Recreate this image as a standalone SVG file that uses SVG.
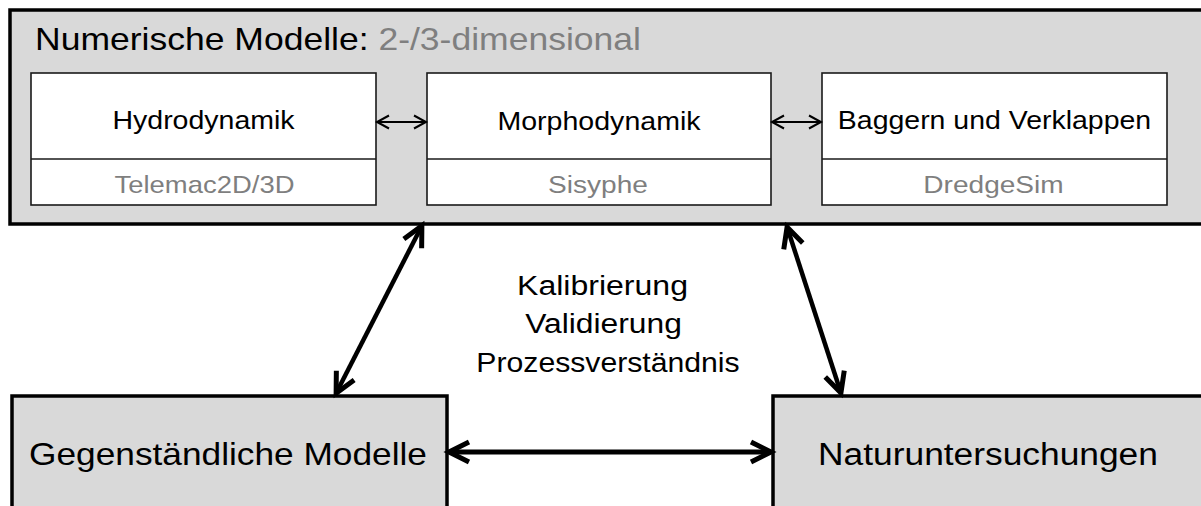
<svg xmlns="http://www.w3.org/2000/svg" width="1201" height="506" viewBox="0 0 1201 506">
<style>
.big{fill:#d9d9d9;stroke:#000;stroke-width:3.5}
.inner{fill:#fff;stroke:#1a1a1a;stroke-width:1.6}
.t{font-family:"Liberation Sans",Arial,sans-serif;fill:#000;text-anchor:middle}
.g{fill:#7f7f7f}
.con{fill:none;stroke:#000}
</style>
<defs>
<marker id="ahS" markerUnits="userSpaceOnUse" viewBox="-15 -10 19 20" markerWidth="19" markerHeight="20" refX="-1" refY="0" orient="auto-start-reverse">
<path d="M-12,-6.5 L0,0 L-12,6.5" fill="none" stroke="#000" stroke-width="2"/>
</marker>
<marker id="ahB" markerUnits="userSpaceOnUse" viewBox="-26 -15 32 30" markerWidth="32" markerHeight="30" refX="-3" refY="0" orient="auto-start-reverse">
<path d="M-20,-10 L0,0 L-20,10" fill="none" stroke="#000" stroke-width="5"/>
</marker>
</defs>
<rect width="1201" height="506" fill="#fff"/>

<g id="numerische-modelle">
<rect class="big" x="10" y="10" width="1195" height="214"/>
<text class="t" style="text-anchor:start" font-size="31" transform="translate(35,50) scale(1.146,1)">Numerische Modelle: <tspan class="g">2-/3-dimensional</tspan></text>
</g>

<g id="hydrodynamik">
<rect class="inner" x="31" y="73" width="345" height="132"/>
<line x1="31" y1="159" x2="376" y2="159" stroke="#1a1a1a" stroke-width="1.4"/>
<text class="t" font-size="25" transform="translate(203.5,129) scale(1.14,1)">Hydrodynamik</text>
<text class="t g" font-size="24" transform="translate(204.5,193) scale(1.144,1)">Telemac2D/3D</text>
</g>

<g id="morphodynamik">
<rect class="inner" x="427" y="73" width="344" height="132"/>
<line x1="427" y1="159" x2="771" y2="159" stroke="#1a1a1a" stroke-width="1.4"/>
<text class="t" font-size="25" transform="translate(599,130) scale(1.142,1)">Morphodynamik</text>
<text class="t g" font-size="24" transform="translate(598,193) scale(1.17,1)">Sisyphe</text>
</g>

<g id="baggern">
<rect class="inner" x="822" y="73" width="345" height="132"/>
<line x1="822" y1="159" x2="1167" y2="159" stroke="#1a1a1a" stroke-width="1.4"/>
<text class="t" font-size="25" transform="translate(994.5,129) scale(1.139,1)">Baggern und Verklappen</text>
<text class="t g" font-size="24" transform="translate(993.5,193) scale(1.17,1)">DredgeSim</text>
</g>

<g id="gegenstaendliche-modelle">
<rect class="big" x="12" y="396" width="435" height="120"/>
<text class="t" font-size="31" transform="translate(228,465) scale(1.138,1)">Gegenständliche Modelle</text>
</g>

<g id="naturuntersuchungen">
<rect class="big" x="773" y="396" width="440" height="120"/>
<text class="t" font-size="31" transform="translate(988,465) scale(1.14,1)">Naturuntersuchungen</text>
</g>

<g id="label">
<text class="t" font-size="27.5" transform="translate(602.5,295) scale(1.165,1)">Kalibrierung</text>
<text class="t" font-size="27.5" transform="translate(603.5,333) scale(1.156,1)">Validierung</text>
<text class="t" font-size="27.5" transform="translate(608,372) scale(1.098,1)">Prozessverständnis</text>
</g>

<g id="connectors">
<line class="con" stroke-width="2" x1="378" y1="122" x2="425" y2="122" marker-start="url(#ahS)" marker-end="url(#ahS)"/>
<line class="con" stroke-width="2" x1="773" y1="122" x2="820" y2="122" marker-start="url(#ahS)" marker-end="url(#ahS)"/>
<line class="con" stroke-width="5" x1="452" y1="452" x2="768" y2="452" marker-start="url(#ahB)" marker-end="url(#ahB)"/>
<line class="con" stroke-width="4.5" x1="337.5" y1="390.5" x2="420.5" y2="228.5" marker-start="url(#ahB)" marker-end="url(#ahB)"/>
<line class="con" stroke-width="4.5" x1="788" y1="230" x2="840" y2="390" marker-start="url(#ahB)" marker-end="url(#ahB)"/>
</g>
</svg>
